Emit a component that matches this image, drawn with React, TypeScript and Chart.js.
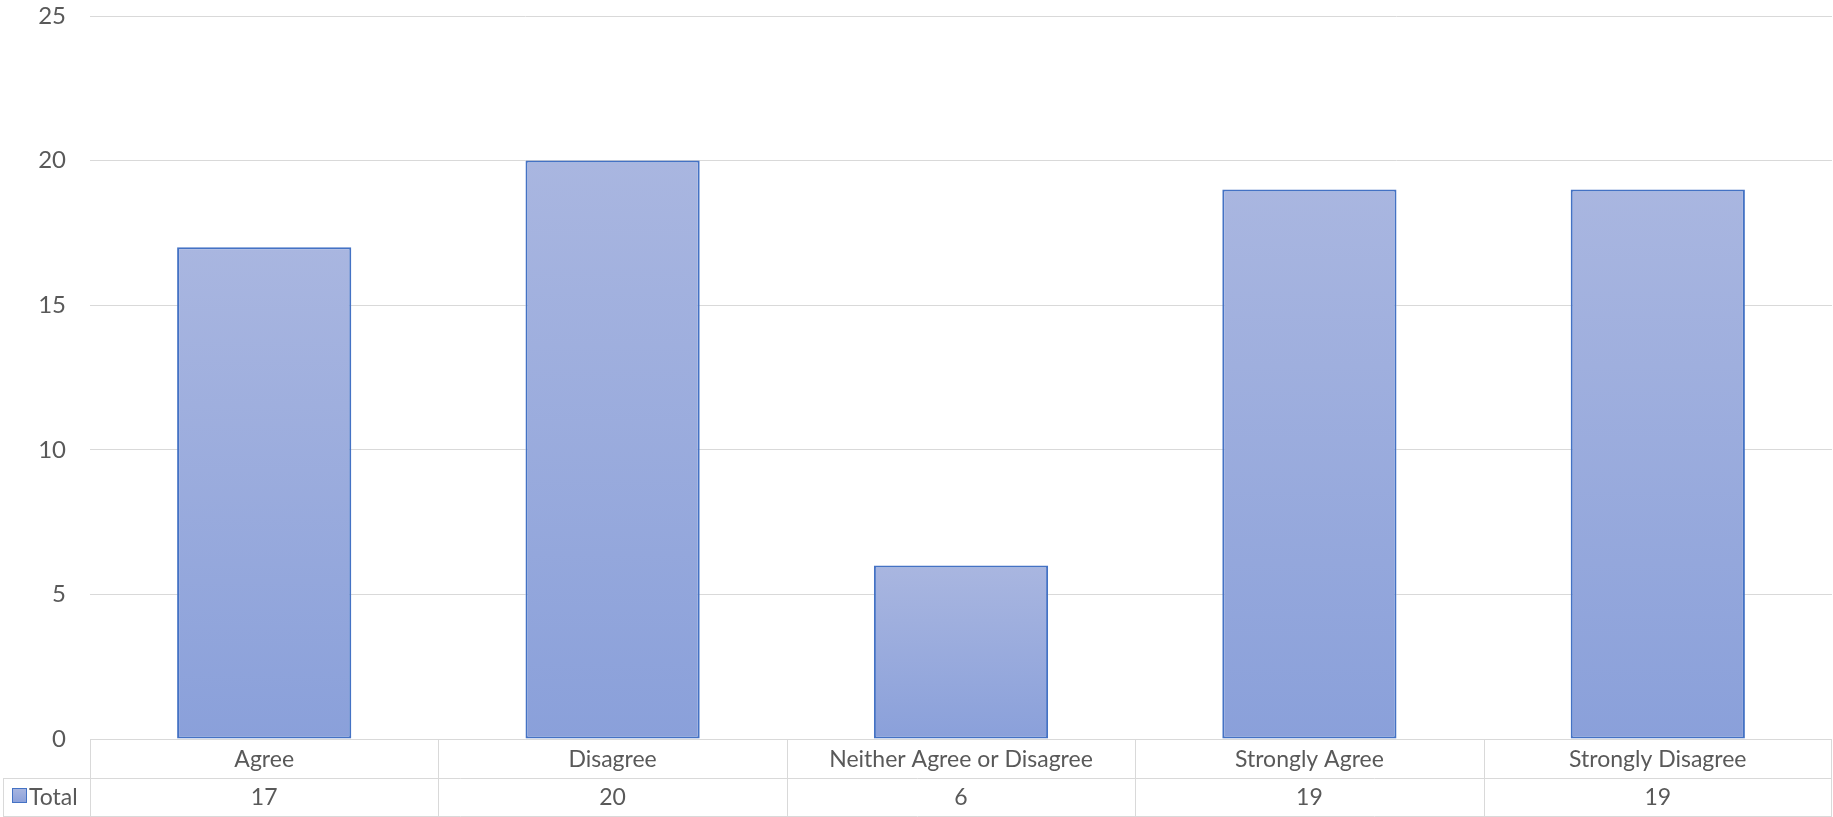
import React, { useEffect, useRef } from "react";
import { Chart, registerables } from "chart.js";

Chart.register(...registerables);

const categories = ["Agree", "Disagree", "Neither Agree or Disagree", "Strongly Agree", "Strongly Disagree"];
const totals = [17, 20, 6, 19, 19];
const seriesName = "Total";
const yTicks = [0, 5, 10, 15, 20, 25];

const FONT = "Lato";
const TEXT = "#595959";
const GRID = "#D9D9D9";
const TOP_COLOR = "#A9B6E0";
const BOTTOM_COLOR = "#8AA0DA";
const BORDER = "#4472C4";

const tablePlugin = {
  id: "dataTable",
  afterDraw(chart: any) {
    const ctx = chart.ctx;
    const area = chart.chartArea;
    const xs = chart.scales.x;
    const row1Top = area.bottom;
    const row1Bot = row1Top + 39;
    const row2Bot = row1Bot + 38;
    const leftEdge = 3;
    const right = area.right;
    ctx.save();
    ctx.strokeStyle = GRID;
    ctx.lineWidth = 1;
    const hline = (x1: number, x2: number, y: number) => {
      ctx.beginPath();
      ctx.moveTo(x1, y + 0.5);
      ctx.lineTo(x2, y + 0.5);
      ctx.stroke();
    };
    const vline = (x: number, y1: number, y2: number) => {
      ctx.beginPath();
      ctx.moveTo(Math.round(x) + 0.5, y1);
      ctx.lineTo(Math.round(x) + 0.5, y2);
      ctx.stroke();
    };
    hline(area.left, right, row1Top);
    hline(leftEdge, right, row1Bot);
    hline(leftEdge, right, row2Bot);
    vline(leftEdge, row1Bot, row2Bot);
    const n = categories.length;
    const step = (right - area.left) / n;
    for (let i = 0; i <= n; i++) {
      const x = i === n ? right - 1 : area.left + i * step;
      vline(x, row1Top, row2Bot);
    }
    ctx.fillStyle = TEXT;
    ctx.font = `23px ${FONT}`;
    ctx.textAlign = "center";
    ctx.textBaseline = "middle";
    categories.forEach((c, i) => {
      const cx = xs.getPixelForValue(i);
      ctx.fillText(c, cx, (row1Top + row1Bot) / 2 + 1);
      ctx.fillText(String(totals[i]), cx, (row1Bot + row2Bot) / 2 + 1);
    });
    // legend key
    const kx = 12, ky = 788, ks = 15;
    const g = ctx.createLinearGradient(0, ky, 0, ky + ks);
    g.addColorStop(0, TOP_COLOR);
    g.addColorStop(1, BOTTOM_COLOR);
    ctx.fillStyle = g;
    ctx.fillRect(kx, ky, ks, ks);
    ctx.strokeStyle = BORDER;
    ctx.strokeRect(kx + 0.5, ky + 0.5, ks - 1, ks - 1);
    ctx.fillStyle = TEXT;
    ctx.textAlign = "left";
    ctx.fillText(seriesName, 29, (row1Bot + row2Bot) / 2 + 1);
    ctx.restore();
  },
};

export default function App() {
  const ref = useRef<HTMLCanvasElement | null>(null);
  useEffect(() => {
    if (!ref.current) return;
    const chart = new Chart(ref.current, {
      type: "bar",
      data: {
        labels: categories,
        datasets: [
          {
            label: seriesName,
            data: totals,
            backgroundColor: (c: any) => {
              const ch = c.chart;
              const ys = ch.scales && ch.scales.y;
              if (!ys || c.parsed == null) return BOTTOM_COLOR;
              const top = ys.getPixelForValue(c.parsed.y);
              const base = ys.getPixelForValue(0);
              if (!isFinite(top) || !isFinite(base) || top === base) return BOTTOM_COLOR;
              const g = ch.ctx.createLinearGradient(0, top, 0, base);
              g.addColorStop(0, TOP_COLOR);
              g.addColorStop(1, BOTTOM_COLOR);
              return g;
            },
            borderColor: BORDER,
            borderWidth: 2,
            borderSkipped: false,
            barPercentage: 0.5,
            categoryPercentage: 1,
          },
        ],
      },
      options: {
        responsive: false,
        animation: false,
        devicePixelRatio: 1,
        layout: { padding: { left: 0, right: 1, top: 16, bottom: 78 } },
        plugins: { legend: { display: false }, tooltip: { enabled: false } },
        scales: {
          x: { display: false },
          y: {
            min: 0,
            max: 25,
            afterFit: (s: any) => {
              s.width = 90;
              s.paddingTop = 0;
              s.paddingBottom = 0;
            },
            afterBuildTicks: (s: any) => {
              s.ticks = yTicks.map((v) => ({ value: v }));
            },
            ticks: {
              color: TEXT,
              font: { family: FONT, size: 24 },
              padding: 24,
            },
            grid: { color: GRID, drawTicks: false, lineWidth: 1 },
            border: { display: false },
          },
        },
      },
      plugins: [tablePlugin],
    });
    return () => chart.destroy();
  }, []);
  return (
    <div style={{ position: "fixed", left: 0, top: 0, width: 1833, height: 817, background: "#fff" }}>
      <canvas ref={ref} width={1833} height={817} style={{ width: 1833, height: 817 }} />
    </div>
  );
}
